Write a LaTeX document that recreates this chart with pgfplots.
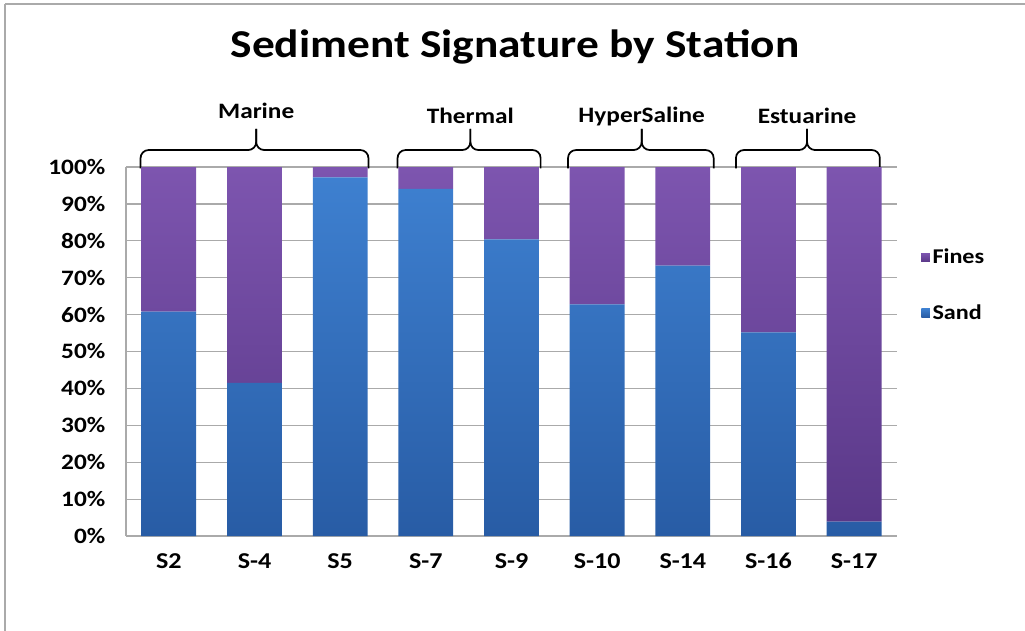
\documentclass[border=0pt]{standalone}
\usepackage{pgfplots}
\pgfplotsset{compat=1.18}
\usepackage{fontspec}
\setmainfont{Carlito}[FakeStretch=1.15]
\definecolor{gridc}{RGB}{170,170,170}
\definecolor{sandT}{RGB}{62,128,208}
\definecolor{sandB}{RGB}{40,92,165}
\definecolor{fineT}{RGB}{125,85,175}
\definecolor{fineB}{RGB}{90,56,136}
\definecolor{sandL}{RGB}{55,115,200}
\definecolor{fineL}{RGB}{112,72,162}
\begin{document}
\begin{tikzpicture}
\begin{scope}[x=0.75pt,y=-0.75pt]
\useasboundingbox (0,0) rectangle (1025,631);
\draw[gridc,line width=1.5pt] (5,4) -- (1025,4);
\draw[gridc,line width=1.5pt] (5,4) -- (5,631);
\node[font=\bfseries\fontsize{29.6}{34}\selectfont] at (515,47) {Sediment Signature by Station};
\end{scope}
\begin{axis}[
  at={(94.5pt,-402pt)}, anchor=south west,
  scale only axis, width=578.25pt, height=276.75pt,
  xmin=-0.5, xmax=8.5, ymin=0, ymax=100,
  ybar stacked, bar width=0.64,
  clip=false,
  xtick={0,...,8},
  xticklabels={S2,S-4,S5,S-7,S-9,S-10,S-14,S-16,S-17},
  ytick={0,10,...,100},
  yticklabel={\pgfmathprintnumber{\tick}\%},
  /pgf/number format/assume math mode=true,
  major tick length=0pt,
  yticklabel style={font=\bfseries\fontsize{16.5}{19}\selectfont, xshift=-12pt},
  xticklabel style={font=\bfseries\fontsize{17}{19}\selectfont, yshift=-9pt, text height=12pt, text depth=2pt},
  ymajorgrids, grid style={gridc, line width=0.9pt},
  axis x line*=bottom, axis y line*=left,
  x axis line style={-, gridc, line width=0.9pt},
  y axis line style={-, gridc, line width=0.9pt},
  legend style={at={(1.026,0.68)}, anchor=west, draw=none, fill=none,
     font=\bfseries\fontsize{15.75}{18}\selectfont, row sep=25pt,
     /tikz/every even column/.append style={column sep=4pt}},
  legend cell align=left,
  reverse legend,
]
\addplot[draw=none, top color=sandT, bottom color=sandB,
  legend image code/.code={\fill[sandL] (0pt,-3.2pt) rectangle (6.4pt,3.2pt);}]
  coordinates {(0,60.8) (1,41.5) (2,97.2) (3,94.1) (4,80.4) (5,62.8) (6,73.3) (7,55.2) (8,3.9)};
\addlegendentry{Sand}
\addplot[draw=none, top color=fineT, bottom color=fineB,
  legend image code/.code={\fill[fineL] (0pt,-3.2pt) rectangle (6.4pt,3.2pt);}]
  coordinates {(0,39.2) (1,58.5) (2,2.8) (3,5.9) (4,19.6) (5,37.2) (6,26.7) (7,44.8) (8,96.1)};
\addlegendentry{Fines}
% group braces
\foreach \a/\m/\b/\t/\ty in {-0.33/1.02/2.33/Marine/115.3, 2.67/3.52/4.34/Thermal/113.8, 4.66/5.52/6.36/HyperSaline/113.8, 6.62/7.45/8.3/Estuarine/113.8}{
  \edef\temp{\noexpand\draw[black, line width=1.3pt, rounded corners=6pt] (axis cs:\a,99.6) -- (axis cs:\a,104.6) -- (axis cs:\m,104.6) -- (axis cs:\m,110.3);
  \noexpand\draw[black, line width=1.3pt, rounded corners=6pt] (axis cs:\b,99.6) -- (axis cs:\b,104.6) -- (axis cs:\m,104.6) -- (axis cs:\m,110.3);
  \noexpand\node[font=\noexpand\bfseries\noexpand\fontsize{16.5}{19}\noexpand\selectfont] at (axis cs:\m,\ty) {\t};}
  \temp
}
\end{axis}
\end{tikzpicture}
\end{document}
